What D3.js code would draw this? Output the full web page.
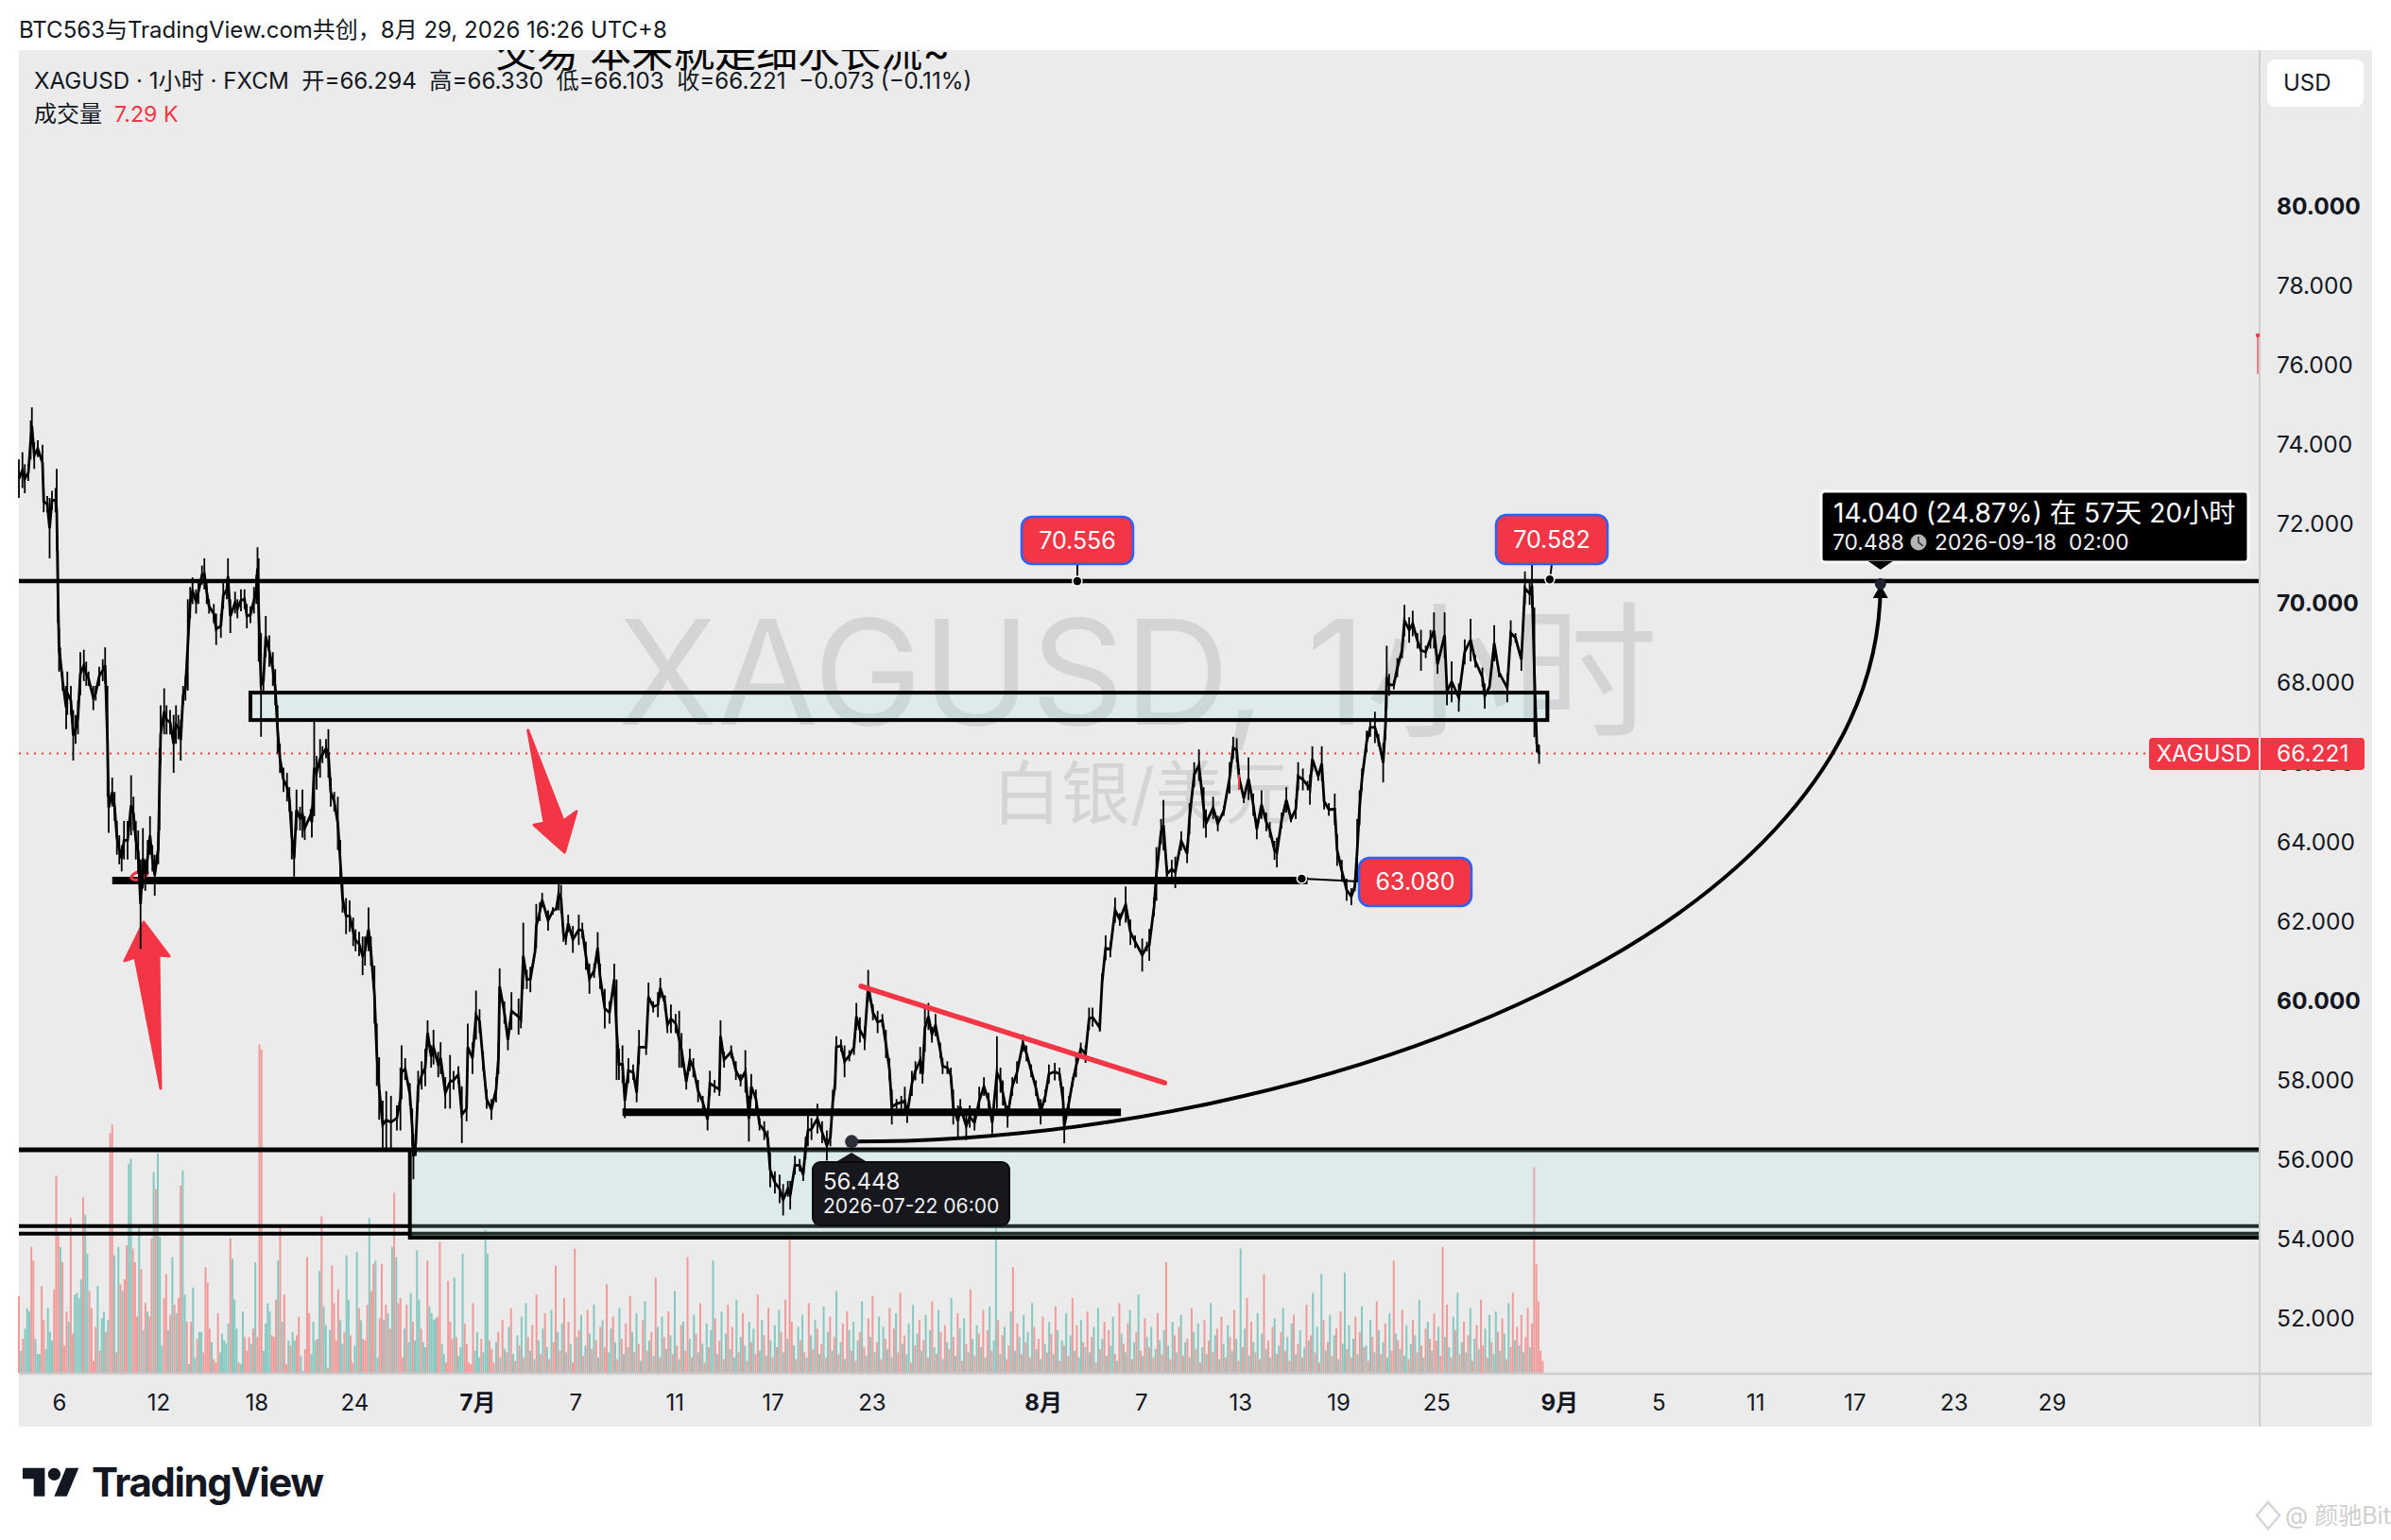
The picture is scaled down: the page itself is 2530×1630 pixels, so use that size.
<!DOCTYPE html>
<html>
<head>
<meta charset="utf-8">
<script src="https://cdn.jsdelivr.net/npm/d3@7"></script>
<style>
  html, body { margin: 0; padding: 0; background: #fff; }
  text { font-family: Inter, "Noto Sans CJK SC", sans-serif; }
</style>
</head>
<body>
<div id="chart"></div>
<script>
// [hour index, high, low]
const barsJun = [[0,73.62,72.65],[3,73.8,72.9],[5,73.5,72.77],[8,73.5,73.08],[10,74.6,73.62],[11,74.93,73.99],[13,74.05,73.38],[16,74.1,73.68],[20,73.99,73.08],[21,72.83,72.29],[24,72.7,72.29],[26,72.65,71.13],[28,72.83,72.35],[31,72.9,72.29],[32,73.38,71.32],[33,71.32,69.5],[34,69.37,68.28],[35,68.89,68.34],[37,68.28,67.8],[40,67.92,66.83],[41,68.28,67.19],[44,67.92,67.19],[46,67.31,66.04],[48,67.19,66.46],[50,67.55,66.7],[52,68.77,67.68],[55,68.83,68.04],[57,68.53,67.92],[59,68.28,67.92],[63,67.92,67.31],[65,67.92,67.55],[68,68.4,67.92],[71,68.59,68.04],[73,68.89,67.98],[75,67.92,65.13],[76,65.49,64.22],[79,65.61,64.88],[81,65.25,64.52],[83,64.52,63.67],[85,64.16,63.43],[87,63.91,63.25],[89,64.52,63.55],[92,64.52,63.55],[95,65.67,64.16],[97,65.13,64.28],[99,64.52,63.55],[101,64.28,63.19],[103,63.55,61.3],[105,64.34,62.82],[107,63.55,62.76],[109,64.04,63.19],[111,64.64,63.67],[113,63.91,63.25],[115,63.67,62.64],[118,64.22,63.43],[119,66.34,64.28],[120,67.43,65.98],[123,67.86,66.7],[125,67.43,66.7],[128,67.31,66.7],[131,67.19,65.73],[133,67.43,66.46],[135,67.19,66.58],[137,67.07,66.04],[139,67.92,67.43],[141,68.16,67.55],[143,70.1,67.8],[145,70.41,69.62],[147,70.65,69.98],[150,70.35,69.74],[152,70.59,69.98],[155,70.95,70.47],[157,71.13,70.35],[159,70.59,69.98],[161,70.1,69.74],[165,69.98,69.5],[167,69.74,68.95],[171,69.74,69.13],[173,70.53,69.86],[176,70.59,70.1],[177,71.13,70.22],[179,70.1,69.25],[183,70.29,69.74],[185,70.1,69.62],[188,70.35,69.8],[191,70.35,69.86],[193,69.98,69.37],[196,69.92,69.5],[199,70.41,69.74],[201,70.71,69.98],[202,71.41,70.35],[203,71.13,68.53],[205,69.25,66.64],[207,68.28,67.8],[209,69.68,68.65],[212,69.19,68.4],[215,68.77,67.92],[217,68.34,67.43],[219,67.43,66.22],[221,66.46,65.73],[224,65.86,65.25],[227,65.73,65.01],[229,65.37,64.76],[231,64.76,63.55],[233,64.04,63.12],[235,65.31,64.28],[238,64.88,64.28],[240,65.31,64.1],[242,64.64,64.04],[247,64.82,64.52],[248,64.88,64.1],[250,67.07,64.64],[252,66.16,65.31],[255,66.58,65.61],[257,66.4,65.98],[260,66.58,66.1],[262,66.83,65.61],[264,65.61,64.88],[267,65.25,64.76],[270,65.13,63.79],[272,64.04,63.06],[274,62.94,62.21],[277,62.58,61.67],[280,62.52,61.73],[283,62.09,61.37],[285,61.79,61.24],[288,61.73,61.12],[291,61.61,60.64],[293,61.61,60.88],[296,62.34,61.24],[298,61.61,60.88],[301,60.88,59.42],[303,59.42,57.85],[305,58.57,57.0],[308,57.48,56.27],[311,57.72,56.27],[315,57.6,56.27]];

const barsJul = [[320,57.36,56.73],[323,58.31,56.73],[324,58.87,57.52],[327,58.55,58.0],[331,57.92,57.36],[333,57.28,56.33],[334,56.65,55.5],[336,56.73,56.09],[338,58.23,57.44],[341,58.47,57.76],[344,58.79,57.84],[346,59.5,58.87],[349,58.87,58.31],[351,59.26,58.39],[355,58.71,58.07],[357,58.95,58.15],[361,58.07,57.28],[365,58.63,57.28],[368,58.23,57.76],[372,58.35,57.92],[375,57.84,56.41],[379,57.6,56.96],[380,59.42,58.23],[384,58.95,58.15],[387,60.25,59.02],[390,59.78,59.18],[393,58.71,58.23],[396,57.76,57.28],[400,57.52,57.0],[404,58.07,57.44],[406,58.95,58.15],[407,60.81,59.9],[411,59.98,59.42],[414,59.26,58.75],[417,60.21,59.26],[423,60.05,59.14],[425,59.74,59.3],[427,61.96,60.29],[430,60.77,60.29],[433,60.85,60.21],[437,61.32,61.17],[438,62.43,61.32],[441,62.47,62.0],[443,62.71,62.35],[448,62.27,61.76],[452,62.35,62.16],[455,62.35,62.27],[457,63.11,62.27],[459,62.91,62.2],[461,61.88,61.48],[463,61.72,61.4],[465,62.16,61.72],[469,61.88,61.2],[474,62.16,61.4],[477,61.96,61.56],[480,61.48,60.77],[483,60.93,60.17],[487,60.93,60.57],[490,61.72,60.93],[492,60.93,60.29],[496,60.29,59.3],[500,59.98,59.42],[504,60.93,60.13],[506,60.53,58.0],[508,58.79,58.0],[511,58.87,57.92],[513,57.92,57.04],[516,58.55,57.92],[520,58.39,58.0],[523,57.92,57.44],[525,59.26,58.39],[531,59.02,58.63],[533,60.45,59.74],[537,59.98,59.7],[541,60.21,59.58],[543,60.57,60.06],[547,60.13,59.74],[549,59.58,59.18],[552,59.9,59.18],[556,59.66,59.18],[559,59.74,58.31],[561,59.18,58.31],[565,58.15,57.76],[568,58.79,58.23],[571,58.55,58.07],[575,58.0,57.44],[579,57.6,57.28],[583,57.28,56.73],[585,58.23,57.6],[589,58.0,57.68],[593,57.92,57.6],[594,59.5,58.71],[597,58.71,58.31],[603,58.87,58.55],[607,58.47,58.0],[611,58.15,57.84],[615,58.75,57.68],[618,57.6,56.45],[620,58.15,57.52],[624,57.76,57.28],[627,57.04,56.73],[631,56.96,56.49],[634,56.73,56.33],[636,56.17,55.3]];

const barsLateJul = [[640,55.7,55.14],[644,55.62,54.9],[647,55.38,54.59],[651,55.46,55.06],[653,55.46,54.74],[657,56.09,55.62],[661,56.01,55.7],[664,55.77,55.46],[666,56.57,56.01],[668,57.12,56.33],[671,57.04,56.49],[676,57.4,56.65],[680,56.96,56.41],[684,56.73,55.97],[687,56.8,56.33],[689,57.75,57.12],[691,58.07,57.75],[692,59.1,58.55],[696,59.02,58.71],[699,58.87,58.07],[703,58.75,58.47],[707,59.02,58.63],[709,59.94,59.26],[712,59.58,58.94],[716,59.34,58.75],[719,60.77,59.97],[723,59.9,59.5],[727,59.74,59.18],[731,59.66,59.34],[734,59.26,58.55],[737,58.55,57.99],[739,57.76,56.88],[743,57.52,57.28],[747,57.6,57.28],[750,57.83,57.12],[752,57.36,56.92],[756,58.23,57.6],[759,58.47,57.99],[763,58.83,58.15],[765,58.39,57.91],[767,59.9,58.71],[770,59.94,59.26],[773,59.34,58.94],[776,59.66,59.1],[780,58.94,58.55],[782,58.55,58.15],[786,58.47,58.15],[789,58.31,57.91],[791,57.76,56.88],[795,57.36,56.57],[797,57.52,57.12],[802,57.2,56.49],[805,57.36,56.8],[809,57.12,56.73],[813,57.83,57.12],[817,58.07,57.6],[821,57.68,57.28],[824,57.2,56.65],[828,59.1,57.28],[831,58.31,57.68],[833,57.99,57.36],[837,57.36,56.8],[841,58.07,57.6],[845,58.47,57.91],[850,59.14,58.71],[853,58.87,58.47],[857,58.39,58.07],[861,57.99,57.6],[865,57.52,56.88],[869,57.76,57.44],[872,58.39,57.91],[877,58.43,57.99],[881,58.31,57.99],[884,57.83,57.12],[885,57.28,56.41],[889,57.6,57.28],[892,58.07,57.83],[895,58.63,58.07],[899,58.94,58.63],[903,58.87,58.43],[906,59.82,59.26],[909,59.82,59.34],[915,59.42,59.22],[917,60.69,60.21],[920,61.64,61.01]];

const barsAug = [[924,61.48,61.09],[928,62.59,61.96],[932,62.2,61.88],[937,62.87,61.96],[941,62.04,61.4],[945,61.64,61.32],[951,61.56,60.73],[955,61.48,61.24],[957,61.8,61.0],[961,62.59,62.12],[963,63.86,62.51],[967,64.57,63.94],[969,65.05,63.78],[972,63.39,62.99],[976,63.54,63.07],[979,63.62,62.83],[984,64.26,63.78],[989,63.94,63.46],[991,64.97,64.18],[995,66.0,65.37],[999,66.32,65.53],[1003,65.37,64.34],[1005,64.81,64.1],[1011,65.13,64.57],[1015,64.65,64.26],[1020,64.89,64.65],[1025,66.0,65.21],[1028,66.64,66.08],[1031,66.6,66.0],[1033,65.84,65.37],[1037,65.21,64.97],[1041,66.12,65.05],[1045,65.21,64.65],[1048,64.57,64.06],[1052,65.29,64.57],[1056,64.73,64.26],[1059,64.49,64.1],[1063,64.02,63.54],[1065,64.1,63.35],[1069,64.73,64.34],[1073,65.37,64.73],[1077,64.65,64.49],[1081,65.05,64.57],[1083,66.0,65.29],[1087,65.84,65.29],[1091,65.53,65.29],[1093,65.69,64.93],[1095,66.4,65.76],[1100,65.76,65.53],[1103,66.4,65.53],[1105,65.21,64.81],[1109,64.97,64.65],[1114,65.21,64.42],[1116,64.18,63.39],[1120,63.54,62.99],[1124,63.07,62.51],[1128,62.83,62.4],[1131,62.99,62.75],[1133,64.57,62.99],[1135,65.29,64.41],[1137,65.84,65.29],[1141,66.79,66.24],[1144,67.11,66.64],[1148,67.27,66.48],[1151,66.71,66.4],[1155,66.48,65.49],[1157,67.35,66.56],[1158,68.93,67.35],[1160,68.22,67.67],[1164,68.06,67.83],[1167,68.62,68.14],[1171,69.01,68.62],[1173,69.96,69.17],[1177,69.65,69.01],[1180,69.81,69.17],[1184,69.25,68.86],[1187,69.33,68.3],[1191,68.93,68.62],[1195,69.33,68.86],[1198,69.77,68.86],[1201,68.7,68.22],[1207,69.77,68.62],[1209,68.14,67.43],[1213,68.54,67.51],[1219,67.98,67.27],[1224,69.09,68.46],[1229,69.61,68.54],[1233,68.7,68.38],[1239,68.38,67.9],[1241,67.98,67.35],[1245,67.98,67.83],[1249,69.45,68.54],[1253,68.38,68.14],[1260,68.22,67.51],[1263,69.57,68.93],[1267,69.25,69.01],[1272,68.86,68.3],[1275,70.8,69.96],[1279,70.52,69.96],[1281,71.0,69.89],[1283,69.89,66.63],[1285,66.71,66.24],[1287,66.44,65.96]];

// volume in K, positive = up bar, negative = down bar
const volJun = [-45,13,-20,26,38,36,-74,-66,20,11,11,-51,-31,14,38,24,19,-49,-116,-82,74,-65,-16,-36,30,-91,-23,46,47,44,55,-103,93,70,-48,-38,-7,-27,51,-13,32,36,-24,31,-141,-146,69,-12,74,-52,48,-55,-75,123,126,-73,-65,-33,85,-61,25,-41,36,-33,-79,118,-108,129,80,16,-44,-58,25,-34,68,-40,35,-44,-110,119,46,-30,5,-30,50,9,-20,24,24,-12,-62,-53,-26,18,-8,-6,-35,12,23,19,17,29,-79,67,43,26,-6,5,36,-21,-13,-21,17,-26,65,-21,-193,-190,13,29,41,36,-22,-21,-43,66,-86,30,-46,-5,19,-16,24,19,-22,-33,10,1,-14,-68,-35,11,30,19,-20,60,-92,39,28,-3,25,-63,-41,-19,-49,31,17,-24,69,43,-22,-6,16,71,-38,31,-20,-19,-40,91,-48,-64,66,9,-32,-64,31,-40,35,-26,74,-106,68,-41,-44,-9,26,-40,18,47,-30,19,72,43,-26,18,15,-66,39,35,31,32,-33,-77,17,11,-6,-54,-30,-20,56,-21,10,15,70,-29,-17,-6,-5,-41,13,24,9,-20,12,84,70,-19,-14,-6];
const volJulAug = [
  18,-24,9,-31,14,-12,27,-38,11,-7,
  22,-16,33,-9,41,-21,13,-28,8,-46,
  19,-11,26,-35,15,-8,37,-18,-63,24,
  -13,29,-44,12,-30,17,-6,-73,21,-25,
  34,-10,16,-37,23,-14,40,-19,9,-27,
  31,-15,-52,12,26,-33,18,-8,38,-20,
  11,-29,15,-45,24,-12,35,-17,7,-31,
  42,-13,19,-24,10,-56,27,-9,33,-21,
  14,-36,22,-11,48,-16,8,-28,30,-13,
  -68,20,-9,34,-23,12,-41,17,-6,29,
  -15,25,66,-32,11,-19,36,-8,23,-40,
  14,-27,9,43,-12,21,-35,16,-7,30,
  -18,26,-11,-46,13,31,-22,10,-38,19,
  -9,28,-15,37,-24,12,-43,20,-83,-30,
  16,-8,27,-19,34,-12,9,-41,22,-14,
  31,-26,11,-17,39,-9,24,-33,13,-21,
  48,-11,18,-29,8,-36,25,-13,30,-7,
  19,-24,42,-15,10,-32,21,-45,12,-18,
  33,-8,27,-20,14,-38,9,-26,35,-12,
  -47,17,-22,11,29,-6,40,-16,23,-31,
  13,-19,34,-9,25,-42,15,-11,37,-24,
  8,-28,18,-14,44,-21,10,-35,26,-7,
  32,-17,12,-49,20,-10,28,-23,15,-37,
  9,-25,39,-13,19,93,-31,11,-22,27,
  -8,-16,36,-62,13,-29,21,-11,34,-18,
  24,-9,41,-27,14,-20,8,-33,17,-12,
  30,-23,11,-39,25,-7,19,-16,35,-10,
  22,-44,13,-28,9,31,-18,15,-36,12,
  -21,27,-6,38,-14,20,-30,10,-25,16,
  33,-11,7,-41,23,-17,12,-29,37,-8,
  18,-24,46,-13,10,-32,21,-15,27,-9,
  14,-35,19,-11,25,-65,16,-8,30,-22,
  12,-27,34,-10,18,-20,9,-38,24,-14,
  29,-6,15,-31,11,-19,41,-12,22,-26,
  8,-33,17,-9,28,-21,13,-37,20,-7,
  73,-15,26,-44,10,-30,18,-12,35,-8,
  23,-58,14,-19,9,-27,32,-11,16,-24,
  38,-13,21,-7,29,-34,11,-17,25,-9,
  15,-40,19,-22,47,-12,27,-6,58,-31,
  13,-18,34,-10,22,-26,8,-36,17,59,
  -14,28,-9,20,-33,11,-24,39,-15,16,
  -7,31,-21,12,-42,25,-11,18,-29,9,
  35,-13,-66,23,-19,14,-37,10,28,-8,
  17,-31,22,-12,43,-16,9,-26,30,-20,
  13,-35,-19,27,-10,-74,21,-40,15,-9,
  33,-25,47,-11,18,-30,12,-22,38,-7,
  20,-28,14,-43,-16,26,-9,34,-18,11,
  36,-24,13,-32,23,-8,41,-15,-47,19,
  -27,16,-34,12,-21,-38,15,-29,-121,-64,
  -42,-13,-7];

const priceTicks = d3.range(52, 82, 2);
const boldTicks = [60, 70, 80];
const timeTicks = [34,118,201,284,388,471,555,638,722,867,950,1034,1117,1200,1304,1388,1470,1554,1638,1721];
const timeLabels = ['6','12','18','24','7月','7','11','17','23','8月','7','13','19','25','9月','5','11','17','23','29'];
const monthLabels = ['7月','8月','9月'];

// projected curve from 56.448 to 70.488, end points and two handles
const curveHours = [705,1104,1576,1576];
const curvePrices = [56.448,56.448,61.76,70.488];
const trendHours = [713,970];
const trendPrices = [60.36,57.93];
const arrowUp = [[105.6,61.97],[127.2,61.12],[118.4,61.14],[120,57.79],[98.4,61.09],[89.6,61.0]];
const arrowDown = [[431,66.8],[461,64.52],[472,64.76],[462,63.73],[436,64.42],[445,64.47]];

const lastPrice = 66.221;
const red = '#f23645', ink = '#131722', panel = '#ebebeb';

const svg = d3.select('#chart').append('svg')
  .attr('width', 2530).attr('height', 1630)
  .attr('viewBox', '0 0 2530 1630')
  .style('display', 'block');

const x = d3.scaleLinear().domain([0, 1897]).range([20, 2391]);
const y = d3.scaleLinear().domain([80, 52]).range([218, 1395.4]);
const yVol = d3.scaleLinear().domain([0, 200]).range([1453, 1093]);

svg.append('clipPath').attr('id', 'pane').append('rect')
  .attr('x', 20).attr('y', 53).attr('width', 2490).attr('height', 1457);

svg.append('rect').attr('x', 20).attr('y', 53).attr('width', 2490).attr('height', 1457).attr('fill', panel);

// watermark
svg.append('text').attr('x', 1204).attr('y', 767).attr('text-anchor', 'middle')
  .attr('font-size', 154.5).attr('fill', '#d2d4d6').text('XAGUSD, 1小时');
svg.append('text').attr('x', 1209).attr('y', 866).attr('text-anchor', 'middle')
  .attr('font-size', 73).attr('fill', '#d2d4d6').text('白银/美元');

// text cut by the top of the pane
svg.append('g').attr('clip-path', 'url(#pane)').append('text')
  .attr('x', 524).attr('y', 71).attr('font-size', 44).attr('fill', '#000')
  .text('交易 本来就是细水长流~');

// volume, up bars first so the down bars sit on top
const volBars = [];
volJun.forEach((v, i) => volBars.push([i * 402 / (volJun.length - 1), v]));
volJulAug.forEach((v, i) => volBars.push([404 + i * (1290 - 404) / (volJulAug.length - 1), v]));
volBars.sort((a, b) => (a[1] < 0) - (b[1] < 0));
svg.append('g').selectAll('rect').data(volBars).enter().append('rect')
  .attr('x', d => x(d[0]) - 1)
  .attr('width', 2)
  .attr('y', d => yVol(Math.abs(d[1])))
  .attr('height', d => yVol(0) - yVol(Math.abs(d[1])))
  .attr('fill', d => d[1] < 0 ? '#f19a9a' : '#85c8c0');

// horizontal levels
const hline = (h0, h1, p, w) => svg.append('line')
  .attr('x1', x(h0)).attr('x2', x(h1)).attr('y1', y(p)).attr('y2', y(p))
  .attr('stroke', '#000').attr('stroke-width', w);
hline(0, 1897, 70.556, 4.5);
hline(0, 1897, 56.24, 5);
hline(0, 1897, 54.32, 4);
hline(0, 1897, 54.13, 4);
hline(79, 1091, 63.02, 8);
hline(511, 933, 57.19, 8);

// zones
const zone = (h0, h1, p0, p1) => svg.append('rect')
  .attr('x', x(h0)).attr('width', x(h1) - x(h0))
  .attr('y', y(p0)).attr('height', y(p1) - y(p0))
  .attr('fill', 'rgba(170,235,235,0.2)')
  .attr('stroke', '#000').attr('stroke-width', 4);
zone(196, 1294, 67.75, 67.06);
svg.append('rect')
  .attr('x', x(331)).attr('width', x(1897) - x(331))
  .attr('y', y(56.24)).attr('height', y(54.03) - y(56.24))
  .attr('fill', 'rgba(170,235,235,0.2)');
svg.append('path')
  .attr('d', `M${x(1897)},${y(54.03)}H${x(331)}V${y(56.24)}`)
  .attr('fill', 'none').attr('stroke', '#000').attr('stroke-width', 4);

// last price line
svg.append('line').attr('x1', x(0)).attr('x2', 2274).attr('y1', y(lastPrice)).attr('y2', y(lastPrice))
  .attr('stroke', red).attr('stroke-width', 2).attr('stroke-dasharray', '2 6');

// red marks under the bars
svg.append('ellipse').attr('transform', `translate(${x(102)},${y(63.15)}) rotate(-18)`)
  .attr('rx', 9).attr('ry', 4).attr('fill', 'none').attr('stroke', red).attr('stroke-width', 3);

const line = d3.line().x(d => x(d[0])).y(d => y(d[1]));
const polygon = pts => svg.append('path').attr('d', line(pts) + 'Z')
  .attr('fill', red).attr('stroke', red).attr('stroke-width', 3).attr('stroke-linejoin', 'round');
polygon(arrowUp);
polygon(arrowDown);

// price bars
const bars = barsJun.concat(barsJul, barsLateJul, barsAug);
svg.append('g').selectAll('line').data(bars).enter().append('line')
  .attr('x1', d => x(d[0])).attr('x2', d => x(d[0]))
  .attr('y1', d => y(d[1])).attr('y2', d => y(d[2]))
  .attr('stroke', '#000').attr('stroke-width', 1.8);
svg.append('path')
  .attr('d', d3.line().x(d => x(d[0])).y(d => y((d[1] + d[2]) / 2))(bars))
  .attr('fill', 'none').attr('stroke', '#000').attr('stroke-width', 2.8);

// trend line
svg.append('path').attr('d', line(trendHours.map((h, i) => [h, trendPrices[i]])))
  .attr('fill', 'none').attr('stroke', red).attr('stroke-width', 5.5).attr('stroke-linecap', 'round');

// curve
const curvePath = d3.path();
curvePath.moveTo(x(curveHours[0]), y(curvePrices[0]));
curvePath.bezierCurveTo(x(curveHours[1]), y(curvePrices[1]), x(curveHours[2]), y(curvePrices[2]), x(curveHours[3]), y(curvePrices[3]));
svg.append('path').attr('d', curvePath.toString())
  .attr('fill', 'none').attr('stroke', '#000').attr('stroke-width', 4);
const tipX = x(1576), tipY = y(70.488);
svg.append('path').attr('d', `M${tipX},${tipY + 1}l-8,14h16z`).attr('fill', '#000');
svg.append('circle').attr('cx', tipX).attr('cy', tipY).attr('r', 6).attr('fill', '#1e222d');
svg.append('circle').attr('cx', x(705)).attr('cy', y(56.448)).attr('r', 7).attr('fill', '#2a2e39');

// callout boxes
const dot = (h, p) => svg.append('circle').attr('cx', x(h)).attr('cy', y(p)).attr('r', 5)
  .attr('fill', '#000').attr('stroke', '#fff').attr('stroke-width', 1.5);
const callout = (bx, by, bw, bh, label) => {
  svg.append('rect').attr('x', bx).attr('y', by).attr('width', bw).attr('height', bh).attr('rx', 11)
    .attr('fill', red).attr('stroke', '#2962ff').attr('stroke-width', 2.5);
  svg.append('text').attr('x', bx + bw / 2).attr('y', by + bh / 2 + 2).attr('text-anchor', 'middle')
    .attr('dominant-baseline', 'middle').attr('font-size', 25).attr('fill', '#fff').text(label);
};
svg.append('line').attr('x1', 1140).attr('x2', 1140).attr('y1', 597).attr('y2', 615).attr('stroke', '#000').attr('stroke-width', 2);
svg.append('line').attr('x1', 1642).attr('x2', 1640).attr('y1', 597).attr('y2', 613).attr('stroke', '#000').attr('stroke-width', 2);
svg.append('line').attr('x1', 1378).attr('x2', 1438).attr('y1', 930).attr('y2', 933).attr('stroke', '#000').attr('stroke-width', 2);
dot(896, 70.556);
dot(1296, 70.6);
dot(1086, 63.07);
callout(1081, 547, 118, 50, '70.556');
callout(1583, 545, 118, 52, '70.582');
callout(1438, 908, 119, 51, '63.080');

// dark tooltip under the start of the curve
svg.append('path').attr('d', 'M901,1220l-20,12h40z').attr('fill', '#16181d');
svg.append('rect').attr('x', 860).attr('y', 1230).attr('width', 208).attr('height', 67).attr('rx', 8)
  .attr('fill', '#16181d').attr('stroke', '#0a0a0c').attr('stroke-width', 2);
svg.append('text').attr('x', 871).attr('y', 1259).attr('font-size', 24).attr('fill', '#f0f0f0').text('56.448');
svg.append('text').attr('x', 871).attr('y', 1284).attr('font-size', 21.1).attr('fill', '#f0f0f0').text('2026-07-22 06:00');

// black tooltip at the end of the curve
svg.append('path').attr('d', `M${tipX},603l-14,-10h28z`).attr('fill', '#000').attr('stroke', '#fff').attr('stroke-width', 2);
svg.append('rect').attr('x', 1927).attr('y', 520).attr('width', 452).attr('height', 75).attr('rx', 4)
  .attr('fill', '#000').attr('stroke', '#fff').attr('stroke-width', 3);
svg.append('path').attr('d', `M${tipX - 13},594l13,9l13,-9z`).attr('fill', '#000');
svg.append('text').attr('x', 1940).attr('y', 553).attr('font-size', 28.2).attr('fill', '#fff').text('14.040 (24.87%) 在 57天 20小时');
svg.append('text').attr('x', 1939).attr('y', 582).attr('font-size', 22.8).attr('fill', '#f0f0f0').text('70.488');
svg.append('circle').attr('cx', 2030).attr('cy', 574).attr('r', 8.5).attr('fill', '#b5b5b5');
svg.append('path').attr('d', 'M2030,568v6l5,4').attr('fill', 'none').attr('stroke', '#333').attr('stroke-width', 1.6);
svg.append('text').attr('x', 2047).attr('y', 582).attr('font-size', 22.8).attr('fill', '#f0f0f0').attr('xml:space', 'preserve').text('2026-09-18  02:00');

// panel borders
svg.append('line').attr('x1', 2391).attr('x2', 2391).attr('y1', 53).attr('y2', 1510).attr('stroke', '#cfcfcf').attr('stroke-width', 2);
svg.append('line').attr('x1', 20).attr('x2', 2510).attr('y1', 1454).attr('y2', 1454).attr('stroke', '#cfcfcf').attr('stroke-width', 2.5);

// price axis
const yAxis = svg.append('g').attr('transform', 'translate(2391,0)')
  .call(d3.axisRight(y).tickValues(priceTicks).tickSize(0).tickPadding(18).tickFormat(d3.format('.3f')));
yAxis.select('.domain').remove();
yAxis.selectAll('text')
  .attr('y', 0.5)
  .attr('font-size', 24.5)
  .attr('font-family', 'Inter, sans-serif')
  .attr('fill', ink)
  .attr('font-weight', d => boldTicks.includes(d) ? 700 : 400);

// time axis
const xAxis = svg.append('g').attr('transform', 'translate(0,1454)')
  .call(d3.axisBottom(x).tickValues(timeTicks).tickSize(0).tickPadding(22).tickFormat((d, i) => timeLabels[i]));
xAxis.select('.domain').remove();
xAxis.selectAll('text')
  .attr('font-size', 24)
  .attr('font-family', 'Inter, "Noto Sans CJK SC", sans-serif')
  .attr('fill', ink)
  .attr('font-weight', (d, i) => monthLabels.includes(timeLabels[i]) ? 700 : 400);

// small red marks
svg.append('line').attr('x1', 1311).attr('x2', 1311).attr('y1', 820).attr('y2', 836).attr('stroke', red).attr('stroke-width', 2);
svg.append('line').attr('x1', 2389).attr('x2', 2389).attr('y1', 353).attr('y2', 396).attr('stroke', red).attr('stroke-width', 1.2);
svg.append('circle').attr('cx', 2389).attr('cy', 355).attr('r', 2.2).attr('fill', red);

// last price label
svg.append('rect').attr('x', 2274).attr('y', 781).attr('width', 228).attr('height', 34).attr('rx', 4).attr('fill', red);
svg.append('line').attr('x1', 2391).attr('x2', 2391).attr('y1', 781).attr('y2', 815).attr('stroke', panel).attr('stroke-width', 2);
svg.append('text').attr('x', 2332).attr('y', 799.5).attr('text-anchor', 'middle').attr('dominant-baseline', 'middle')
  .attr('font-size', 24).attr('fill', '#fff').text('XAGUSD');
svg.append('text').attr('x', 2409).attr('y', 799.5).attr('dominant-baseline', 'middle')
  .attr('font-size', 24.5).attr('fill', '#fff').text('66.221');

// USD button
svg.append('rect').attr('x', 2399).attr('y', 63).attr('width', 102).attr('height', 50).attr('rx', 8).attr('fill', '#fff');
svg.append('text').attr('x', 2416).attr('y', 89).attr('dominant-baseline', 'middle').attr('font-size', 24).attr('fill', ink).text('USD');

// header and legend
svg.append('text').attr('x', 20).attr('y', 40).attr('font-size', 24).attr('fill', ink)
  .text('BTC563与TradingView.com共创，8月 29, 2026 16:26 UTC+8');
svg.append('text').attr('x', 36).attr('y', 94).attr('font-size', 24.15).attr('fill', ink).attr('xml:space', 'preserve')
  .text('XAGUSD · 1小时 · FXCM  开=66.294  高=66.330  低=66.103  收=66.221  −0.073 (−0.11%)');
svg.append('text').attr('x', 36).attr('y', 128.5).attr('font-size', 24).attr('fill', ink).text('成交量');
svg.append('text').attr('x', 121).attr('y', 128.5).attr('font-size', 23.2).attr('fill', red).text('7.29 K');

// TradingView mark
svg.append('g').attr('transform', 'translate(24,1547) scale(1.67)')
  .append('path').attr('d', 'M14 22H7V11H0V4h14v18zM28 22h-8l7.5-18h8L28 22zM24 8a4 4 0 1 1-8 0 4 4 0 0 1 8 0z').attr('fill', ink);
svg.append('text').attr('x', 97).attr('y', 1584).attr('font-size', 42).attr('font-weight', 700)
  .attr('letter-spacing', -1.4).attr('fill', ink).text('TradingView');

// reposter mark
svg.append('path').attr('d', 'M2400,1590l12,14l-12,14l-12,-14z').attr('fill', 'none').attr('stroke', '#d6d6d6').attr('stroke-width', 2.5);
svg.append('text').attr('x', 2418).attr('y', 1613).attr('font-size', 25).attr('fill', '#cfcfcf').text('@ 颜驰Bit');
</script>
</body>
</html>
